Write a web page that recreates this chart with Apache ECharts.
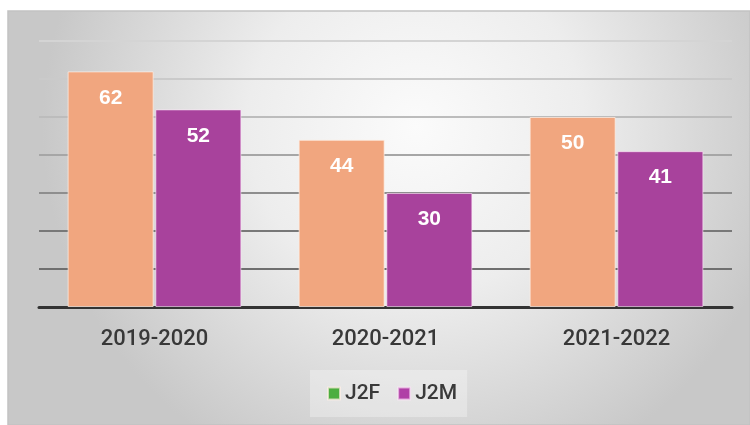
<!DOCTYPE html>
<html>
<head>
<meta charset="utf-8">
<script src="https://cdn.jsdelivr.net/npm/echarts@6/dist/echarts.min.js"></script>
<style>
  html, body { margin: 0; padding: 0; background: #fff; }
  #chart { width: 750px; height: 425px; }
</style>
</head>
<body>
<div id="chart"></div>
<script>
// data
const years = ['2019-2020', '2020-2021', '2021-2022']
const j2f = [62, 44, 50]
const j2m = [52, 30, 41]
const yTicks = { min: 0, max: 70, interval: 10 }

// gridlines fade out towards the top
const gridColors = ['#555', '#6f6f6f', '#787878', '#8e8e8e', '#a6a6a6', '#bcbcbc', '#cacaca', '#d4d4d4']

const chart = echarts.init(document.getElementById('chart'))

const option = {
  backgroundColor: '#fff',
  animation: false,
  graphic: [
    {
      type: 'rect',
      z: -10,
      shape: { x: 8, y: 11, width: 742, height: 414 },
      style: {
        fill: new echarts.graphic.RadialGradient(0.55, 0.28, 0.9, [
          { offset: 0, color: '#fbfbfb' },
          { offset: 0.45, color: '#ededed' },
          { offset: 1, color: '#c8c8c8' }
        ]),
        stroke: '#c2c2c2',
        lineWidth: 1.5
      }
    }
  ],
  grid: { left: 39, right: 18, top: 41, bottom: 118 },
  legend: {
    data: [
      { name: 'J2F', itemStyle: { color: '#4cae3f' } },
      { name: 'J2M', itemStyle: { color: '#b03fa6' } }
    ],
    left: 310,
    top: 370,
    icon: 'rect',
    itemWidth: 12,
    itemHeight: 12,
    itemGap: 17,
    padding: [13, 10, 13, 17],
    backgroundColor: 'rgba(255,255,255,0.3)',
    textStyle: { fontFamily: 'Roboto', fontSize: 21, fontWeight: 500, color: '#3a3a3a' }
  },
  xAxis: {
    type: 'category',
    data: years,
    axisLine: { lineStyle: { color: '#333', width: 3 } },
    axisTick: { show: false },
    axisLabel: { fontFamily: 'Roboto', fontSize: 22, fontWeight: 500, color: '#383838', margin: 21 }
  },
  yAxis: {
    type: 'value',
    min: yTicks.min,
    max: yTicks.max,
    interval: yTicks.interval,
    axisLabel: { show: false },
    axisLine: { show: false },
    axisTick: { show: false },
    splitLine: { lineStyle: { color: gridColors, width: 2 } }
  },
  series: [
    {
      name: 'J2F',
      type: 'bar',
      data: j2f,
      barWidth: 86,
      barGap: '2%',
      itemStyle: { color: '#f1a67f', borderColor: 'rgba(255,240,230,0.7)', borderWidth: 1 },
      label: {
        show: true,
        position: 'insideTop',
        distance: 16,
        color: '#fff',
        fontFamily: 'Liberation Sans',
        fontWeight: 'bold',
        fontSize: 21
      }
    },
    {
      name: 'J2M',
      type: 'bar',
      data: j2m,
      barWidth: 86,
      itemStyle: { color: '#a8429c', borderColor: 'rgba(255,230,250,0.6)', borderWidth: 1 },
      label: {
        show: true,
        position: 'insideTop',
        distance: 16,
        color: '#fff',
        fontFamily: 'Liberation Sans',
        fontWeight: 'bold',
        fontSize: 21
      }
    }
  ]
}

chart.setOption(option)
</script>
</body>
</html>
